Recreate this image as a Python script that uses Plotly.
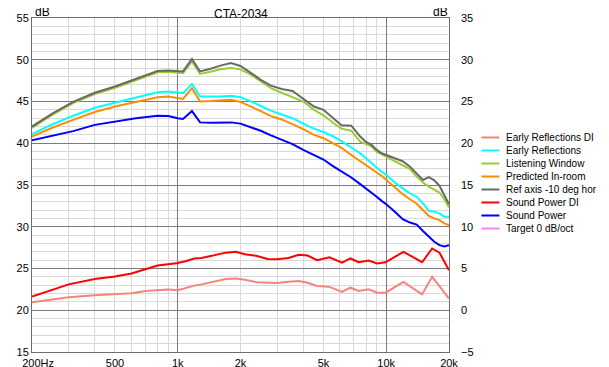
import plotly.graph_objects as go
import math

# ---------------- data ----------------
freq = [200, 250, 315, 400, 500, 630, 800, 900, 1000, 1060, 1170, 1280, 1450, 1600, 1800,
        2000, 2250, 2500, 2800, 3150, 3550, 4000, 4500, 5000, 5600, 6100, 6800, 7500, 8000,
        8500, 9000, 9500, 10000, 11000, 12000, 13000, 14000, 15000, 16000, 17000, 18000,
        19000, 20000]

ref_axis = [42.0, 43.55, 44.95, 46.05, 46.8, 47.7, 48.65, 48.7, 48.6, 48.6, 50.1, 48.6, 48.95,
            49.3, 49.6, 49.25, 48.4, 47.6, 46.9, 46.5, 46.25, 45.35, 44.4, 44.0, 43.0, 42.15,
            42.1, 40.8, 40.15, 39.8, 39.2, 38.8, 38.6, 38.2, 37.85, 37.2, 36.4, 35.6, 35.95,
            35.55, 34.9, 33.8, 32.7]

listening = [41.85, 43.4, 44.8, 45.9, 46.65, 47.55, 48.5, 48.55, 48.45, 48.4, 49.8, 48.3, 48.6,
             48.85, 49.0, 48.85, 48.2, 47.4, 46.6, 46.05, 45.55, 45.0, 44.0, 43.35, 42.4, 41.75,
             41.5, 40.2, 39.9, 39.6, 39.0, 38.7, 38.45, 37.9, 37.4, 36.9, 36.0, 35.3, 34.8,
             34.4, 34.1, 33.3, 32.3]

early_refl = [41.1, 42.25, 43.3, 44.25, 44.85, 45.5, 46.1, 46.2, 46.1, 46.0, 47.1, 45.6, 45.6,
              45.6, 45.7, 45.5, 45.0, 44.5, 43.9, 43.45, 43.0, 42.35, 41.75, 41.35, 40.8, 40.25,
              39.5, 38.8, 38.2, 37.6, 37.1, 36.6, 36.2, 35.3, 34.6, 34.0, 33.6, 32.8, 31.9,
              31.8, 31.6, 31.2, 31.2]

predicted = [40.8, 41.85, 42.8, 43.75, 44.4, 44.9, 45.5, 45.6, 45.45, 45.3, 46.6, 45.0, 45.05,
             45.1, 45.2, 44.95, 44.4, 43.85, 43.25, 42.85, 42.3, 41.7, 41.0, 40.6, 39.95, 39.45,
             38.6, 37.9, 37.4, 36.95, 36.5, 36.1, 35.6, 34.7, 33.9, 33.3, 32.75, 32.0, 31.3,
             31.0, 30.8, 30.4, 30.2]

sound_power = [40.35, 40.9, 41.45, 42.2, 42.6, 43.0, 43.3, 43.25, 43.0, 42.9, 43.85, 42.5, 42.45,
               42.5, 42.5, 42.35, 41.9, 41.5, 40.95, 40.4, 39.9, 39.2, 38.55, 38.05, 37.2, 36.6,
               35.9, 35.1, 34.6, 34.1, 33.6, 33.1, 32.7, 31.8, 30.9, 30.5, 30.25, 29.5, 28.8,
               28.2, 27.8, 27.65, 27.8]

freq_di = [200, 250, 300, 400, 500, 600, 700, 800, 900, 1000, 1100, 1200, 1300, 1500, 1700,
           1900, 2100, 2400, 2700, 3000, 3400, 3800, 4200, 4660, 5340, 6140, 6730, 7380, 8240,
           9040, 9920, 12100, 14860, 16600, 18000, 19700, 20000]

sp_di = [1.65, 2.5, 3.1, 3.75, 4.05, 4.4, 4.9, 5.35, 5.5, 5.65, 5.9, 6.2, 6.25, 6.6, 6.9, 7.0,
         6.7, 6.5, 6.15, 6.1, 6.25, 6.65, 6.55, 6.0, 6.35, 5.7, 6.2, 5.75, 5.95, 5.6, 5.75, 7.0,
         5.75, 7.4, 6.9, 5.1, 4.8]

er_di = [0.95, 1.3, 1.55, 1.8, 1.9, 2.05, 2.3, 2.45, 2.5, 2.4, 2.7, 2.95, 3.1, 3.45, 3.75, 3.8,
         3.65, 3.35, 3.25, 3.25, 3.4, 3.5, 3.3, 2.9, 2.8, 2.2, 2.7, 2.3, 2.5, 2.1, 2.1, 3.4, 1.9,
         4.0, 2.9, 1.6, 1.4]

series_names = ["Early Reflections DI", "Early Reflections", "Listening Window",
                "Predicted In-room", "Ref axis -10 deg hor", "Sound Power DI",
                "Sound Power", "Target 0 dB/oct"]
series_colors = ["#F7837B", "#00FFFF", "#9ACD32", "#FF8C00", "#696969", "#FF0000",
                 "#0000FF", "#FF80FF"]

x_tick_vals = [200, 500, 1000, 2000, 5000, 10000, 20000]
x_tick_text = ["\u00a0\u00a0\u00a0\u00a0200Hz", "500", "1k", "2k", "5k", "10k", "20k"]
x_major_grid = [1000, 10000]
x_minor_grid = [300, 400, 500, 600, 700, 800, 900, 2000, 3000, 4000, 5000, 6000, 7000,
                8000, 9000]

# ---------------- layout helpers ----------------
# The page body adds an 8 px offset, so figure coords = reference pixels - 8.
OFF = 8
W, H = 609 - OFF, 367 - OFF
PLOT_X0, PLOT_X1 = 31.6 - OFF, 448.6 - OFF
PLOT_Y0, PLOT_Y1 = 18 - OFF, 352 - OFF
L, R = PLOT_X0, W - PLOT_X1
T, B = PLOT_Y0, H - PLOT_Y1
PW, PH = W - L - R, H - T - B


def pxx(x):
    """reference pixel x -> paper x"""
    return (x - OFF - L) / PW


def pxy(y):
    """reference pixel y -> paper y"""
    return (H - B - (y - OFF)) / PH


FONT = "Liberation Sans, Arial, sans-serif"
MAJOR = "#7A7A7A"
MINOR = "#D9D9D9"

fig = go.Figure()

main_series = {
    "Early Reflections": early_refl,
    "Listening Window": listening,
    "Predicted In-room": predicted,
    "Ref axis -10 deg hor": ref_axis,
    "Sound Power": sound_power,
}
di_series = {
    "Early Reflections DI": er_di,
    "Sound Power DI": sp_di,
}

for name, color in zip(series_names, series_colors):
    if name in main_series:
        fig.add_trace(go.Scatter(x=freq, y=main_series[name], mode="lines", name=name,
                                 line=dict(color=color, width=2), hoverinfo="skip",
                                 xaxis="x", yaxis="y"))
    elif name in di_series:
        fig.add_trace(go.Scatter(x=freq_di, y=di_series[name], mode="lines", name=name,
                                 line=dict(color=color, width=2), hoverinfo="skip",
                                 xaxis="x2", yaxis="y2"))

xr = [math.log10(200), math.log10(20000)]

fig.update_layout(
    width=W, height=H,
    margin=dict(l=L, r=R, t=T, b=B, pad=0),
    paper_bgcolor="white", plot_bgcolor="white",
    showlegend=False,
    font=dict(family=FONT, size=11, color="#000000"),
    title=dict(text="CTA-2034", x=pxx(240.5), xref="paper", xanchor="center",
               y=1 - (13.5 - OFF) / H, yref="container", yanchor="middle",
               font=dict(family=FONT, size=12, color="#000000")),
    xaxis=dict(type="log", range=xr, tickmode="array", tickvals=x_major_grid,
               showticklabels=False, showgrid=True, gridcolor=MAJOR, gridwidth=1,
               ticks="", ticklen=0, showline=True, mirror=True, linecolor="#6E6E6E",
               linewidth=1, zeroline=False, automargin=False,
               minor=dict(tickmode="array", tickvals=x_minor_grid, showgrid=True,
                          gridcolor=MINOR, gridwidth=1, ticks="")),
    xaxis2=dict(type="log", range=xr, overlaying="x", side="bottom", anchor="y",
                tickmode="array", tickvals=x_tick_vals, ticktext=x_tick_text,
                showgrid=False, ticks="", ticklen=0, showline=False, zeroline=False,
                automargin=False, ticklabelstandoff=3,
                tickfont=dict(family=FONT, size=11, color="#000000")),
    yaxis=dict(range=[15, 55], tickmode="linear", tick0=15, dtick=5, showgrid=True,
               gridcolor=MAJOR, gridwidth=1, ticks="", ticklen=0, showline=True, mirror=True,
               linecolor="#6E6E6E", linewidth=1, zeroline=False, automargin=False,
               ticklabelstandoff=0,
               tickfont=dict(family=FONT, size=11, color="#000000"),
               minor=dict(tickmode="linear", tick0=15, dtick=1, showgrid=True,
                          gridcolor=MINOR, gridwidth=1, ticks="")),
    yaxis2=dict(range=[-5, 35], overlaying="y", side="right", anchor="x",
                tickmode="linear", tick0=-5, dtick=5, showgrid=False, ticks="", ticklen=0,
                showline=False, zeroline=False, automargin=False, ticklabelstandoff=11,
                tickfont=dict(family=FONT, size=11, color="#000000")),
)

annotations = [
    dict(text="dB", xref="paper", yref="paper", x=pxx(33), y=pxy(12.5), xanchor="left",
         yanchor="middle", showarrow=False, font=dict(family=FONT, size=12, color="#000")),
    dict(text="dB", xref="paper", yref="paper", x=pxx(450), y=pxy(12.5), xanchor="right",
         yanchor="middle", showarrow=False, font=dict(family=FONT, size=12, color="#000")),
]
shapes = []
for i, (name, color) in enumerate(zip(series_names, series_colors)):
    yy = 137.5 + 13.0 * i
    shapes.append(dict(type="line", xref="paper", yref="paper", x0=pxx(481), x1=pxx(499),
                       y0=pxy(yy), y1=pxy(yy), line=dict(color=color, width=2)))
    annotations.append(dict(text=name, xref="paper", yref="paper", x=pxx(504), y=pxy(yy),
                            xanchor="left", yanchor="middle", showarrow=False,
                            font=dict(family=FONT, size=10, color="#000")))

fig.update_layout(annotations=annotations, shapes=shapes)

fig.write_html("out.html")
